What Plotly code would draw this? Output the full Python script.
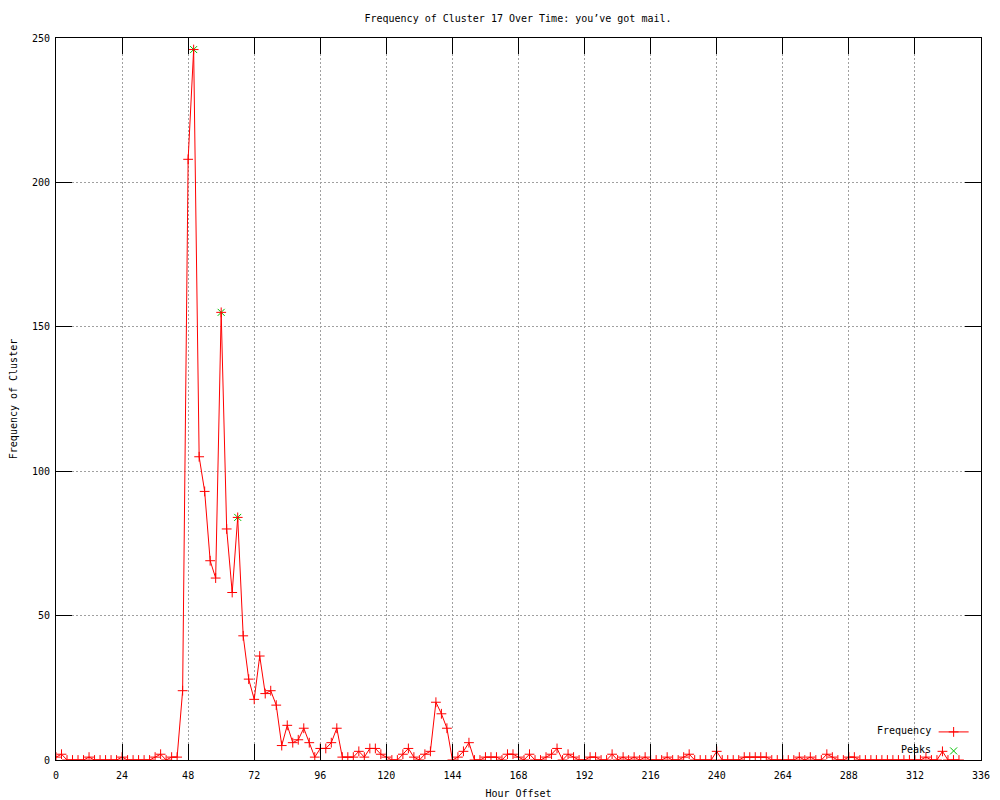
import plotly.graph_objects as go

hours = list(range(0, 330, 2))
frequency = [
    1, 2, 0, 0, 0, 0, 1, 0, 0, 0, 0, 0,          # 0-22
    1, 0, 0, 0, 0, 0, 1, 2, 0, 1, 1, 24,         # 24-46
    208, 246, 105, 93, 69, 63, 155, 80, 58, 84, 43, 28,  # 48-70
    21, 36, 23, 24, 19, 5, 12, 6, 7, 11, 6, 1,   # 72-94
    4, 4, 6, 11, 1, 1, 1, 3, 1, 4, 4, 2,         # 96-118
    1, 0, 0, 2, 4, 1, 0, 2, 3, 20, 16, 11,       # 120-142
    0, 1, 3, 6, 0, 0, 1, 1, 1, 0, 2, 2,          # 144-166
    1, 0, 2, 0, 0, 1, 2, 4, 0, 2, 1, 0,          # 168-190
    0, 1, 1, 0, 0, 2, 0, 1, 0, 1, 0, 1,          # 192-214
    0, 0, 0, 1, 0, 0, 1, 2, 0, 0, 0, 0,          # 216-238
    3, 0, 0, 0, 0, 1, 1, 1, 1, 1, 0, 0,          # 240-262
    0, 0, 0, 1, 0, 1, 0, 0, 2, 1, 0, 0,          # 264-286
    1, 1, 0, 0, 0, 0, 0, 0, 0, 0, 0, 0,          # 288-310
    0, 0, 1, 0, 0, 3, 0, 0, 0,                   # 312-328
]
peak_hours = [50, 60, 66]
peak_values = [246, 155, 84]

x_ticks = list(range(0, 337, 24))
y_ticks = [0, 50, 100, 150, 200, 250]

FONT = "DejaVu Sans Mono"

fig = go.Figure()
fig.add_trace(go.Scatter(
    x=peak_hours, y=peak_values, mode="markers", name=" ",
    marker=dict(symbol="x-thin", size=7, color="#00c000",
                line=dict(width=1, color="#00c000")),
    legendrank=2,
))
fig.add_trace(go.Scatter(
    x=hours, y=frequency, mode="lines+markers", name=" ",
    line=dict(color="#ff0000", width=1),
    marker=dict(symbol="cross-thin", size=7, color="#ff0000",
                line=dict(width=1, color="#ff0000")),
    legendrank=1,
))

axis_common = dict(
    showline=True, linecolor="black", linewidth=1, mirror="ticks",
    ticks="inside", ticklen=16, tickcolor="black", tickwidth=1,
    showgrid=True, gridcolor="#a0a0a0", griddash="2px,2px", gridwidth=1,
    zeroline=False, automargin=False,
    tickfont=dict(family=FONT, size=10, color="black"),
)

fig.update_layout(
    width=1000, height=800,
    paper_bgcolor="white", plot_bgcolor="white",
    margin=dict(l=56, r=19, t=38, b=40),
    font=dict(family=FONT, size=10, color="black"),
    title=dict(text="Frequency of Cluster 17 Over Time: you\u2019ve got mail.",
               x=0.518, xanchor="center", y=0.9775, yanchor="middle",
               font=dict(family=FONT, size=10, color="black")),
    xaxis=dict(range=[0, 336], tickvals=x_ticks, ticklabelstandoff=6,
               title=dict(text="Hour Offset", standoff=9,
                          font=dict(family=FONT, size=10)),
               **axis_common),
    yaxis=dict(range=[0, 250], tickvals=y_ticks, ticklabelstandoff=3,
               title=dict(text="Frequency of Cluster", standoff=12,
                          font=dict(family=FONT, size=10)),
               **axis_common),
    showlegend=True,
    legend=dict(x=1.005, y=-0.0075, xanchor="right", yanchor="bottom",
                bgcolor="rgba(0,0,0,0)", font=dict(family=FONT, size=10),
                itemwidth=30, tracegroupgap=0),
    annotations=[
        dict(text="Frequency", xref="paper", yref="paper", x=0.948, y=0.0402,
             xanchor="right", yanchor="middle", showarrow=False,
             font=dict(family=FONT, size=10, color="black")),
        dict(text="Peaks", xref="paper", yref="paper", x=0.948, y=0.0152,
             xanchor="right", yanchor="middle", showarrow=False,
             font=dict(family=FONT, size=10, color="black")),
    ],
)

fig.write_html("out.html", config={"displayModeBar": False},
               post_script="document.body.style.margin='0px';")
